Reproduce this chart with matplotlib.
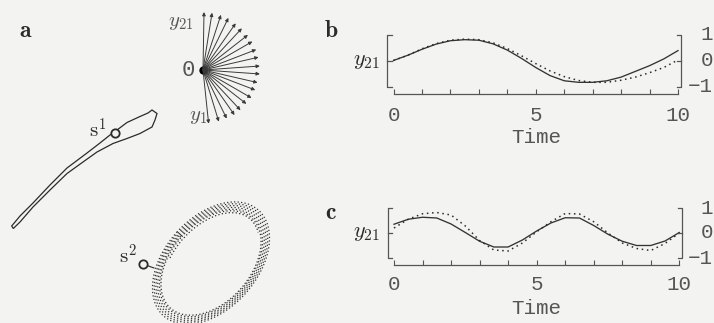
import numpy as np
import matplotlib
matplotlib.use("Agg")
import matplotlib.pyplot as plt
from matplotlib.patches import Ellipse, Arc, Polygon

plt.rcParams['mathtext.fontset'] = 'cm'

W, H = 714, 323
BG = '#f3f3f1'
INK = '#2b2b2b'
GRAY = '#555555'

# ---------------- data ----------------
t = [0, 0.5, 1, 1.5, 2, 2.5, 3, 3.5, 4, 4.5, 5, 5.5, 6, 6.5, 7, 7.5, 8, 8.5, 9, 9.5, 10]
b_solid = [0.02, 0.22, 0.45, 0.65, 0.78, 0.82, 0.80, 0.66, 0.42, 0.10, -0.25, -0.56,
           -0.76, -0.82, -0.82, -0.76, -0.62, -0.40, -0.18, 0.08, 0.40]
b_dotted = [0.02, 0.22, 0.47, 0.67, 0.80, 0.84, 0.82, 0.70, 0.48, 0.20, -0.10, -0.38,
            -0.60, -0.75, -0.82, -0.82, -0.74, -0.62, -0.45, -0.25, 0.04]
c_solid = [0.35, 0.55, 0.63, 0.60, 0.36, 0.02, -0.33, -0.56, -0.56, -0.28, 0.08, 0.40,
           0.61, 0.60, 0.30, -0.05, -0.33, -0.50, -0.50, -0.32, 0.02]
c_dotted = [0.20, 0.55, 0.77, 0.82, 0.72, 0.28, -0.30, -0.68, -0.72, -0.40, 0.05, 0.45,
            0.78, 0.76, 0.45, 0.00, -0.40, -0.62, -0.70, -0.42, 0.00]
xticks = list(range(11))
xticklabels = ['0', '', '', '', '', '5', '', '', '', '', '10']

# panel a: fan of arrows (visual angle in degrees, length in px)
origin = (203, 70)
arrow_angles = [89, 81, 72, 64, 55, 47, 38, 30, 21, 13, 4, -4, -13, -21, -30, -38, -47, -55, -64, -73, -84]
arrow_lengths = [58, 58, 58, 58, 57, 57, 57, 57, 57, 57, 57, 57, 56, 56, 56, 55, 55, 55, 54, 54, 54]

# panel a: trajectory s1 (closed thin loop, picture coordinates)
s1_x = [11.7, 20, 33, 50, 67, 87, 100, 110, 117, 127, 140, 148, 152, 157, 155, 152, 140,
        127, 113, 97, 83, 67, 50, 33, 20, 13.3]
s1_y = [226, 216, 203, 185, 168, 153, 143, 135, 130, 122.5, 116.5, 113, 110, 113.5, 120,
        127, 133.5, 138.5, 143.5, 152, 162, 173.5, 190, 207, 222, 228.5]
s1_point = (115, 133)

# panel a: attractor s2 (ring of orbits)
ring_center = (211, 263)
ring_width, ring_height, ring_angle = 142, 92, -48
ring_scales = [1.0, 0.97, 0.94, 0.91, 0.88, 0.855]
s2_point = (143, 264)

fig = plt.figure(figsize=(W / 100, H / 100), dpi=100, facecolor=BG)


def px_axes(x0, y0, x1, y1):
    return fig.add_axes([x0 / W, 1 - y1 / H, (x1 - x0) / W, (y1 - y0) / H])


# ---------------- panel a ----------------
axa = px_axes(0, 0, 320, 323)
axa.set_xlim(0, 320)
axa.set_ylim(323, 0)
axa.axis('off')
axa.set_facecolor(BG)

for ang, ln in zip(arrow_angles, arrow_lengths):
    a = np.deg2rad(ang)
    tip = (origin[0] + ln * np.cos(a), origin[1] - ln * np.sin(a))
    axa.annotate('', xy=tip, xytext=origin,
                 arrowprops=dict(arrowstyle='-|>', lw=0.7, color='#3a3a3a',
                                 mutation_scale=5, shrinkA=0, shrinkB=0))
axa.plot([origin[0]], [origin[1]], 'o', color='black', ms=5)
axa.text(origin[0] - 8, origin[1], '0', fontsize=16, family='Liberation Mono',
         color=GRAY, ha='right', va='center')
axa.text(181, 22, r'$y_{21}$', fontsize=15, color=GRAY, ha='center', va='center')
axa.text(198, 116, r'$y_{1}$', fontsize=15, color=GRAY, ha='center', va='center')
axa.text(26, 30, r'$\mathbf{a}$', fontsize=17, color=INK, ha='center', va='center')

axa.add_patch(Polygon(list(zip(s1_x, s1_y)), closed=True, fill=False, ec=INK, lw=0.9))
axa.plot([s1_point[0]], [s1_point[1]], 'o', ms=6, mfc=BG, mec=INK, mew=1.3)
axa.text(98, 130, r'$\mathrm{s}^1$', fontsize=15, color=INK, ha='center', va='center')

for sc in ring_scales:
    axa.add_patch(Ellipse(ring_center, ring_width * sc, ring_height * sc, angle=ring_angle,
                          fill=False, ec='#333333', lw=0.9, ls=(0, (1, 1.8))))
axa.add_patch(Arc(ring_center, 118, 74, angle=ring_angle, theta1=235, theta2=375,
                  ec=INK, lw=0.9, ls=(0, (1, 1.8))))
axa.plot([s2_point[0], 154], [s2_point[1], 268], color=INK, lw=0.8)
axa.plot([s2_point[0]], [s2_point[1]], 'o', ms=6, mfc=BG, mec=INK, mew=1.3)
axa.text(128, 256, r'$\mathrm{s}^2$', fontsize=15, color=INK, ha='center', va='center')


# ---------------- panels b, c ----------------
def draw_ts(box, solid, dotted, letter, letter_xy, tick_pad, lab_pad):
    ax = px_axes(*box)
    ax.set_facecolor('none')
    ax.set_xlim(0, 10)
    ax.set_ylim(-1, 1)
    for s in ['top', 'left', 'right']:
        ax.spines[s].set_visible(False)
    ax.spines['bottom'].set_position(('outward', 5.0))
    ax.spines['bottom'].set_color(GRAY)
    ax.spines['bottom'].set_linewidth(0.9)
    ax.set_yticks([])
    ax.set_xticks(xticks)
    ax.set_xticklabels(xticklabels, family='Liberation Mono', fontsize=15, color=GRAY)
    ax.tick_params(axis='x', direction='in', length=3.5, width=0.8, color=GRAY, pad=tick_pad)
    ax.set_xlabel('Time', family='Liberation Mono', fontsize=15, color=GRAY, labelpad=lab_pad)

    ax.plot(t, solid, color='#333333', lw=0.95, clip_on=False)
    ax.plot(t, dotted, color=INK, lw=1.1, ls=(0, (1, 2.4)), clip_on=False)

    tr = ax.get_yaxis_transform()
    wpx = box[2] - box[0]
    xl, xls = -6.5 / wpx, -2.0 / wpx
    xr, xrs = 1 + 3.0 / wpx, 1 - 1.5 / wpx
    kw = dict(color=GRAY, lw=0.9, clip_on=False, transform=tr)
    ax.plot([xls, xl, xl, xls], [1, 1, -1, -1], **kw)
    ax.plot([xl, xls], [0, 0], **kw)
    ax.plot([xrs, xr, xr, xrs], [1, 1, -1, -1], **kw)
    ax.plot([xr, xrs], [0, 0], **kw)

    xlab = (367 - box[0]) / wpx
    ax.text(xlab, 0, r'$y_{21}$', fontsize=16, color=INK, ha='center', va='center',
            transform=tr)
    xright = (713 - box[0]) / wpx
    for v, s in [(1, '1'), (0, '0'), (-1, '−1')]:
        ax.text(xright, v, s, family='Liberation Mono', fontsize=15, color=GRAY,
                ha='right', va='center', transform=tr)
    fig.text(letter_xy[0] / W, 1 - letter_xy[1] / H, r'$\mathbf{' + letter + '}$',
             fontsize=17, color=INK, ha='center', va='center')
    return ax


draw_ts((393.5, 35, 678, 87), b_solid, b_dotted, 'b', (331, 30), 8.5, 2.5)
draw_ts((394, 208, 679.3, 258), c_solid, c_dotted, 'c', (331, 212), 7.5, 3.5)

fig.savefig('out.png', dpi=100, facecolor=BG)
